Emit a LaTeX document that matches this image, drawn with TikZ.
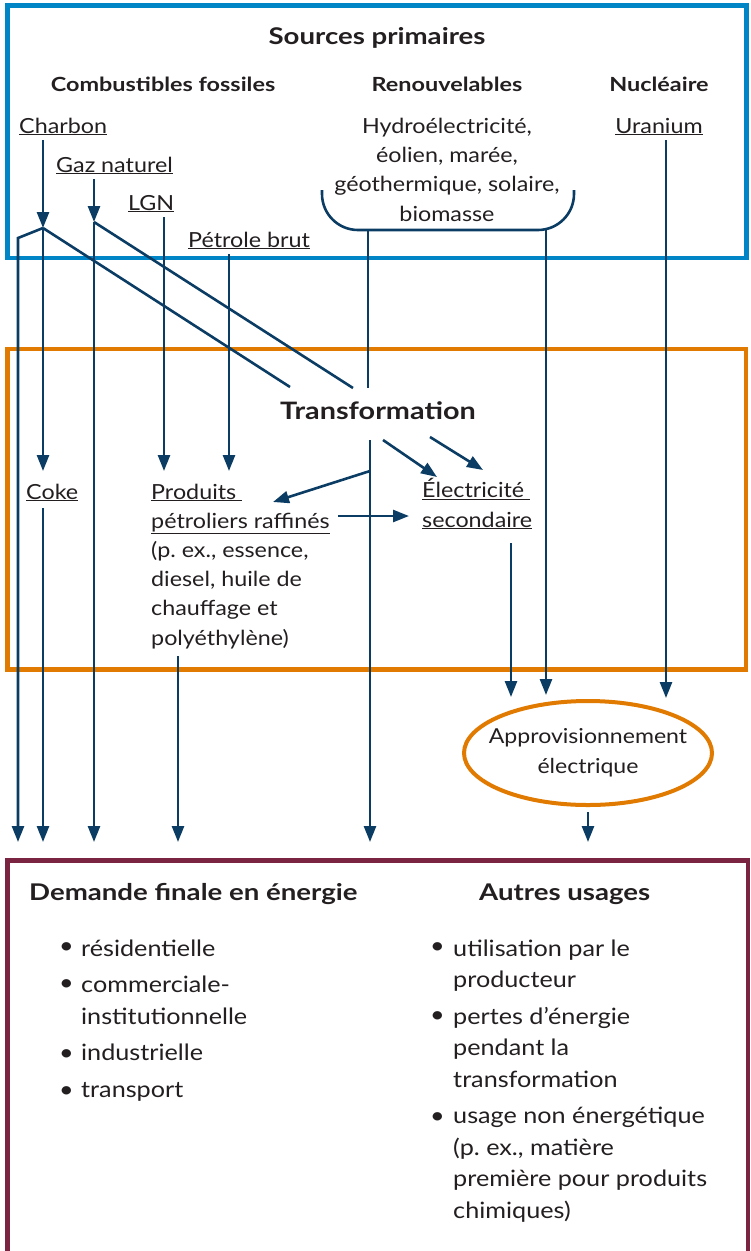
\documentclass[tikz,border=0pt]{standalone}
\usepackage{fontspec}
\setmainfont{Lato}[FakeStretch=1.12,BoldFeatures={FakeStretch=1.2}]
\usetikzlibrary{arrows.meta,shapes.geometric}
\definecolor{srcblue}{HTML}{0085C7}
\definecolor{trforange}{HTML}{E07A00}
\definecolor{usemaroon}{HTML}{7B2442}
\definecolor{flownavy}{HTML}{0B3C64}
\definecolor{ink}{HTML}{231F20}

\begin{document}
\begin{tikzpicture}[x=1pt,y=-1pt,every node/.style={text=ink,inner sep=0pt},
  head/.style={font=\fontsize{19.5}{24}\selectfont\bfseries},
  body/.style={font=\fontsize{20.8}{29.2}\selectfont},
  lower/.style={font=\fontsize{22.5}{31.5}\selectfont,align=left,anchor=base west},
  link/.style={draw=flownavy,line width=2.6pt},
  flow/.style={link,-{Triangle[length=16pt,width=12pt]}},
  frame/.style={line width=4.5pt}]
\useasboundingbox (0,0) rectangle (751,1251);
\draw[frame,srcblue] (7.5,5.5) rectangle (746.5,258);
\draw[frame,trforange] (7.5,349) rectangle (746,669.5);
\draw[frame,usemaroon] (7.5,1255) |- (748,860.5) -- (748,1255);

\node[font=\fontsize{23}{28}\selectfont\bfseries,anchor=base] (sources) at (377,44) {Sources primaires};
\node[head,anchor=base] (fossiles) at (163,91) {Combustibles fossiles};
\node[head,anchor=base] (renouv) at (447,91) {Renouvelables};
\node[head,anchor=base] (nucl) at (659,91) {Nucléaire};
\node[body,anchor=base west] (charbon) at (19,133) {\underline{Charbon}};
\node[body,anchor=base west] (gaz) at (56,172) {\underline{Gaz naturel}};
\node[body,anchor=base west] (lgn) at (128,210) {\underline{LGN}};
\node[body,anchor=base west] (petrole) at (188,247) {\underline{Pétrole brut}};
\node[body,anchor=base,align=center] (hydro) at (447,221) {Hydroélectricité,\\éolien, marée,\\géothermique, solaire,\\biomasse};
\node[body,anchor=base] (uranium) at (659,133) {\underline{Uranium}};

\node[font=\fontsize{24}{30}\selectfont\bfseries,anchor=base] (transfo) at (378,419) {Transformation};
\node[body,anchor=base west] (coke) at (26,499) {\underline{Coke}};
\node[body,anchor=base west,align=left] (produits) at (151,645) {\underline{Produits\ }\\\underline{pétroliers raffinés}\\(p.~ex., essence,\\diesel, huile de\\chauffage et\\polyéthylène)};
\node[body,anchor=base west,align=left] (elec) at (422,527) {\underline{Électricité\ }\\\underline{secondaire}};
\node[ellipse,draw=trforange,line width=4pt,inner xsep=-12pt,minimum width=248pt,minimum height=104pt,align=center,font=\fontsize{20.6}{30}\selectfont] (appro) at (588,753) {Approvisionnement\\électrique};

\node[font=\fontsize{23}{28}\selectfont\bfseries,anchor=base west] (demande) at (29,900) {Demande finale en énergie};
\node[font=\fontsize{23}{28}\selectfont\bfseries,anchor=base west] (autres) at (479,900) {Autres usages};
\node[lower] (bres) at (59,953) {\textbullet};
\node[lower] (bcom) at (59,990) {\textbullet};
\node[lower] (bind) at (59,1060) {\textbullet};
\node[lower] (btra) at (59,1097) {\textbullet};
\node[lower] (finale) at (81,1097) {résidentielle\\[5pt]commerciale-\\institutionnelle\\[5pt]industrielle\\[5pt]transport};
\node[lower] (butil) at (430,953) {\textbullet};
\node[lower] (bpert) at (430,1022) {\textbullet};
\node[lower] (bnon) at (430,1123) {\textbullet};
\node[lower] (usages) at (453,1218) {utilisation par le\\producteur\\[5pt]pertes d’énergie\\pendant la\\transformation\\[5pt]usage non énergétique\\(p.~ex., matière\\première pour produits\\chimiques)};

\coordinate (cfork) at (43,228);
\coordinate (cbend) at (18,238);
\coordinate (gfork) at (94,222);
\coordinate (coketip) at (43,471);
\coordinate (lgntip) at (164,471);
\coordinate (ptip) at (229,471);
\coordinate (tin1) at (290,387);
\coordinate (tin2) at (353,388);
\coordinate (tin3) at (368,388);
\coordinate (brl) at (322,190);
\coordinate (brr) at (574,190);
\coordinate (brbase) at (447,230);
\coordinate (tout) at (370,440);
\coordinate (tmid) at (370,471);
\coordinate (ptin) at (273,502);
\coordinate (pout) at (338,516);
\coordinate (ein) at (409,516);
\coordinate (a1) at (511,697);
\coordinate (a2) at (546,695);
\coordinate (a3) at (666,698);
\coordinate (d1) at (18,842);
\coordinate (d2) at (43,842);
\coordinate (d3) at (94,842);
\coordinate (d4) at (178,842);
\coordinate (d5) at (370,842);
\coordinate (d6) at (588,842);

\draw[flow,shorten <=5pt] (charbon.south -| cfork) -- (cfork);
\draw[flow,shorten <=5pt] (gaz.south -| gfork) -- (gfork);
\draw[flow,shorten <=5pt] (lgn.south -| lgntip) -- (lgntip);
\draw[flow,shorten <=5pt] (petrole.south -| ptip) -- (ptip);
\draw[flow,shorten <=5pt] (uranium.south -| a3) -- (a3);
\draw[flow] (cfork) -- (cbend) -- (d1);
\draw[flow] (cfork) -- (coketip);
\draw[link] (cfork) -- (tin1);
\draw[flow] (gfork) -- (d3);
\draw[link] (gfork) -- (tin2);
\draw[link,rounded corners=36pt] (brl) |- (brbase) -| (brr);
\draw[link] (brbase -| tin3) -- (tin3);
\draw[flow] (brbase -| a2) -- (a2);
\draw[flow] (tout) -- (d5);
\draw[flow] (tmid) -- (ptin);
\draw[flow] (pout) -- (ein);
\draw[flow] ([xshift=13pt]tout) -- (437,477);
\draw[flow] (430,437) -- (483,470);
\draw[flow,shorten <=14pt] (elec.south -| a1) -- (a1);
\draw[flow,shorten <=7pt] (produits.south -| d4) -- (d4);
\draw[flow,shorten <=7pt] (coke.south -| d2) -- (d2);
\draw[flow,shorten <=5pt] (appro.south) -- (d6);
\end{tikzpicture}
\end{document}
